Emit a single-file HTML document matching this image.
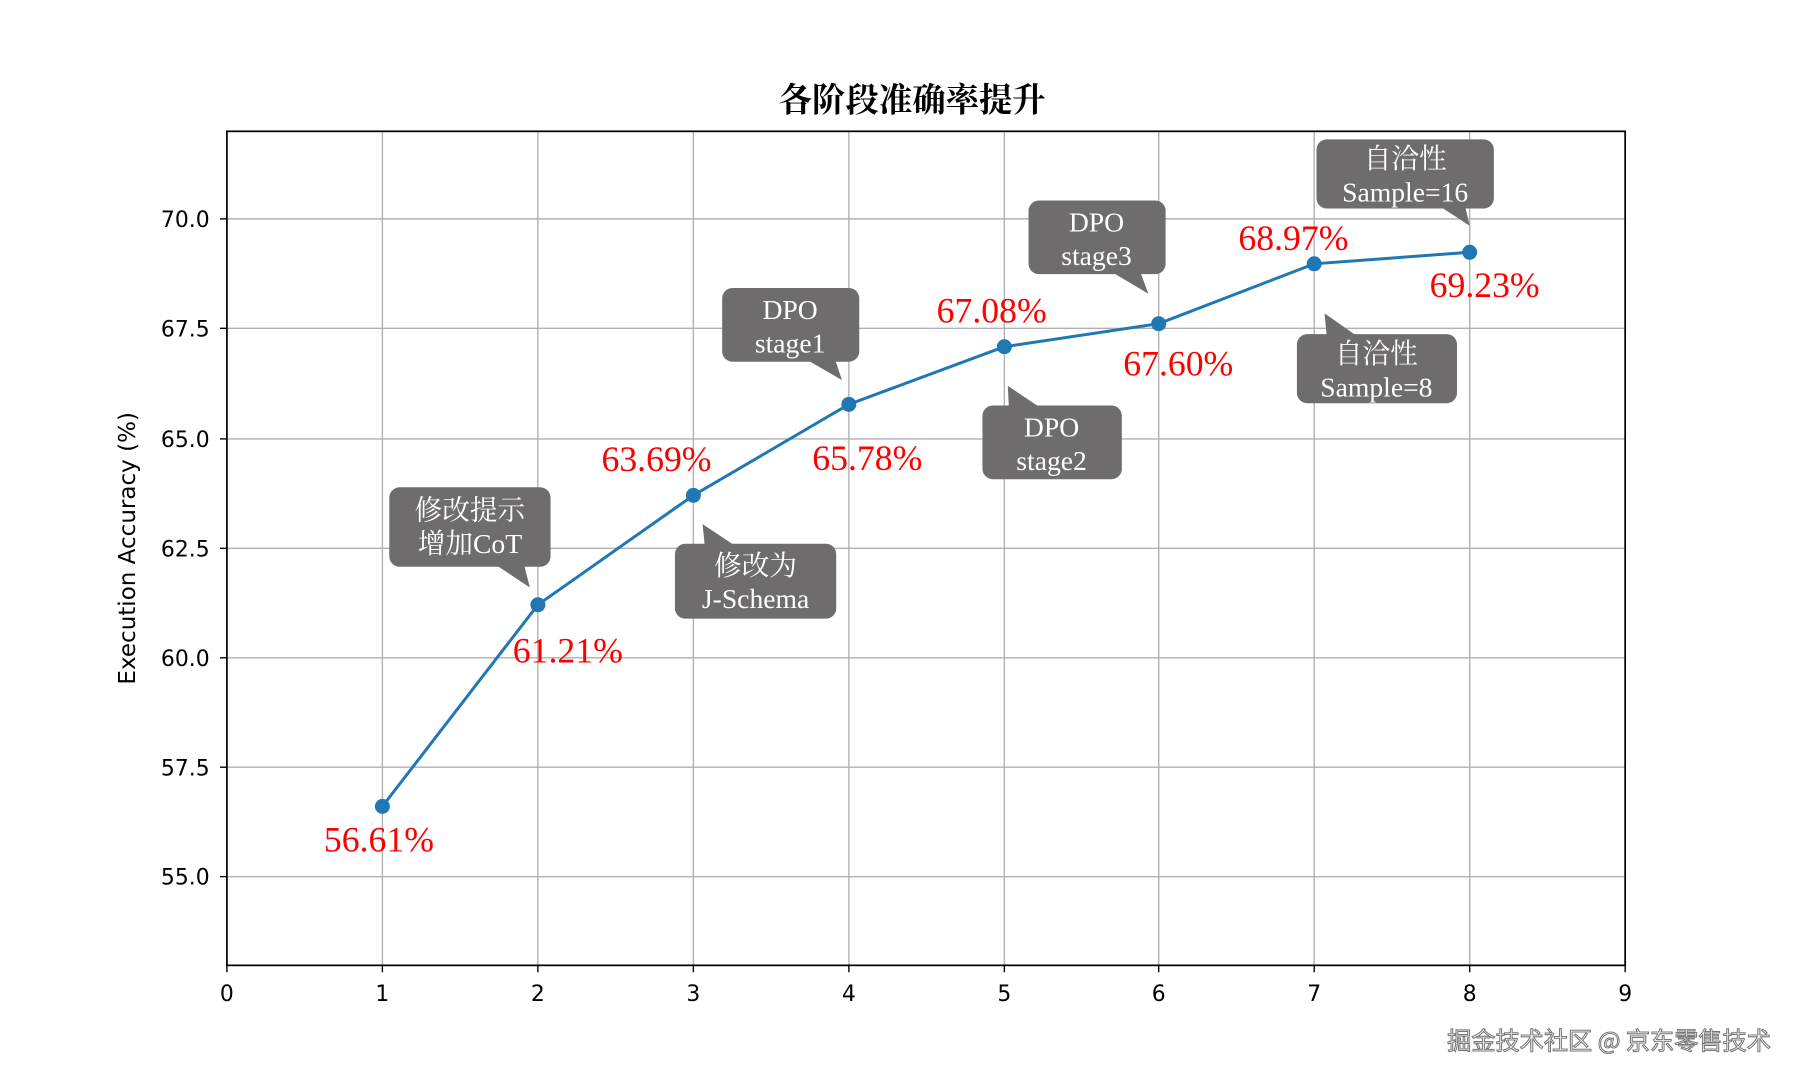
<!DOCTYPE html>
<html><head><meta charset="utf-8"><style>html,body{margin:0;padding:0;background:#fff}svg{display:block}</style></head><body>
<svg width="1806" height="1084" viewBox="0 0 1568 941" preserveAspectRatio="none" xmlns="http://www.w3.org/2000/svg">
<rect width="1568" height="941" fill="#fff"/>
<g stroke="#b0b0b0" stroke-width="1.2">
<line x1="332" y1="114" x2="332" y2="838"/><line x1="467" y1="114" x2="467" y2="838"/><line x1="602" y1="114" x2="602" y2="838"/><line x1="737" y1="114" x2="737" y2="838"/><line x1="872" y1="114" x2="872" y2="838"/><line x1="1006" y1="114" x2="1006" y2="838"/><line x1="1141" y1="114" x2="1141" y2="838"/><line x1="1276" y1="114" x2="1276" y2="838"/>
<line x1="197" y1="190" x2="1411" y2="190"/><line x1="197" y1="285" x2="1411" y2="285"/><line x1="197" y1="381" x2="1411" y2="381"/><line x1="197" y1="476" x2="1411" y2="476"/><line x1="197" y1="571" x2="1411" y2="571"/><line x1="197" y1="666" x2="1411" y2="666"/><line x1="197" y1="761" x2="1411" y2="761"/>
</g>
<rect x="197" y="114" width="1214" height="724" fill="none" stroke="#000" stroke-width="1.5"/>
<g stroke="#000" stroke-width="1.2">
<line x1="197" y1="838" x2="197" y2="844"/><line x1="332" y1="838" x2="332" y2="844"/><line x1="467" y1="838" x2="467" y2="844"/><line x1="602" y1="838" x2="602" y2="844"/><line x1="737" y1="838" x2="737" y2="844"/><line x1="872" y1="838" x2="872" y2="844"/><line x1="1006" y1="838" x2="1006" y2="844"/><line x1="1141" y1="838" x2="1141" y2="844"/><line x1="1276" y1="838" x2="1276" y2="844"/><line x1="1411" y1="838" x2="1411" y2="844"/>
<line x1="191" y1="190" x2="197" y2="190"/><line x1="191" y1="285" x2="197" y2="285"/><line x1="191" y1="381" x2="197" y2="381"/><line x1="191" y1="476" x2="197" y2="476"/><line x1="191" y1="571" x2="197" y2="571"/><line x1="191" y1="666" x2="197" y2="666"/><line x1="191" y1="761" x2="197" y2="761"/>
</g>
<g font-family="DejaVu Sans, sans-serif" font-size="19" fill="#000" text-anchor="middle">
<text x="197" y="869">0</text><text x="332" y="869">1</text><text x="467" y="869">2</text><text x="602" y="869">3</text><text x="737" y="869">4</text><text x="872" y="869">5</text><text x="1006" y="869">6</text><text x="1141" y="869">7</text><text x="1276" y="869">8</text><text x="1411" y="869">9</text>
</g>
<g font-family="DejaVu Sans, sans-serif" font-size="19" fill="#000" text-anchor="end">
<text x="182" y="197">70.0</text><text x="182" y="292">67.5</text><text x="182" y="388">65.0</text><text x="182" y="483">62.5</text><text x="182" y="578">60.0</text><text x="182" y="673">57.5</text><text x="182" y="768">55.0</text>
</g>
<text transform="translate(117,476) rotate(-90)" font-family="DejaVu Sans, sans-serif" font-size="20" text-anchor="middle">Execution Accuracy (%)</text>
<text x="792" y="97" font-family="Noto Serif CJK SC, serif" font-weight="bold" font-size="29" text-anchor="middle">各阶段准确率提升</text>
<polyline fill="none" stroke="#1f77b4" stroke-width="2.6" points="332,700 467,525 602,430 737,351 872,301 1006,281 1141,229 1276,219"/>
<g fill="#1f77b4"><circle cx="332" cy="700" r="6.5"/><circle cx="467" cy="525" r="6.5"/><circle cx="602" cy="430" r="6.5"/><circle cx="737" cy="351" r="6.5"/><circle cx="872" cy="301" r="6.5"/><circle cx="1006" cy="281" r="6.5"/><circle cx="1141" cy="229" r="6.5"/><circle cx="1276" cy="219" r="6.5"/></g>
<g font-family="Liberation Serif, serif" font-size="31" fill="#f00" text-anchor="middle">
<text x="329" y="739">56.61%</text><text x="493" y="575">61.21%</text><text x="570" y="409">63.69%</text><text x="753" y="408">65.78%</text><text x="861" y="280">67.08%</text><text x="1023" y="326">67.60%</text><text x="1123" y="217">68.97%</text><text x="1289" y="258">69.23%</text>
</g>
<g fill="#6e6c6c">
<rect x="338" y="423" width="140" height="69" rx="9"/><polygon points="430,490 455,490 460,510"/>
<rect x="586" y="472" width="140" height="65" rx="9"/><polygon points="610,455 612,475 640,475"/>
<rect x="627" y="250" width="119" height="64" rx="9"/><polygon points="700,312 725,312 731,330"/>
<rect x="853" y="352" width="121" height="64" rx="9"/><polygon points="875,335 876,355 905,355"/>
<rect x="893" y="174" width="119" height="64" rx="9"/><polygon points="965,236 990,236 997,255"/>
<rect x="1126" y="290" width="139" height="60" rx="9"/><polygon points="1150,272 1152,293 1180,293"/>
<rect x="1143" y="121" width="154" height="60" rx="9"/><polygon points="1250,179 1272,179 1276,196"/>
</g>
<g font-family="Liberation Serif, Noto Serif CJK SC, serif" font-size="24" fill="#fff" text-anchor="middle">
<text x="408" y="451">修改提示</text><text x="408" y="480">增加CoT</text>
<text x="656" y="499">修改为</text><text x="656" y="528">J-Schema</text>
<text x="686" y="277">DPO</text><text x="686" y="306">stage1</text>
<text x="913" y="379">DPO</text><text x="913" y="408">stage2</text>
<text x="952" y="201">DPO</text><text x="952" y="230">stage3</text>
<text x="1195" y="315">自洽性</text><text x="1195" y="344">Sample=8</text>
<text x="1220" y="146">自洽性</text><text x="1220" y="175">Sample=16</text>
</g>
<text x="1397" y="911" font-family="Noto Sans CJK SC, sans-serif" font-size="21" fill="#fff" stroke="#777" stroke-width="0.9" text-anchor="middle">掘金技术社区 @ 京东零售技术</text>
</svg>
</body></html>
